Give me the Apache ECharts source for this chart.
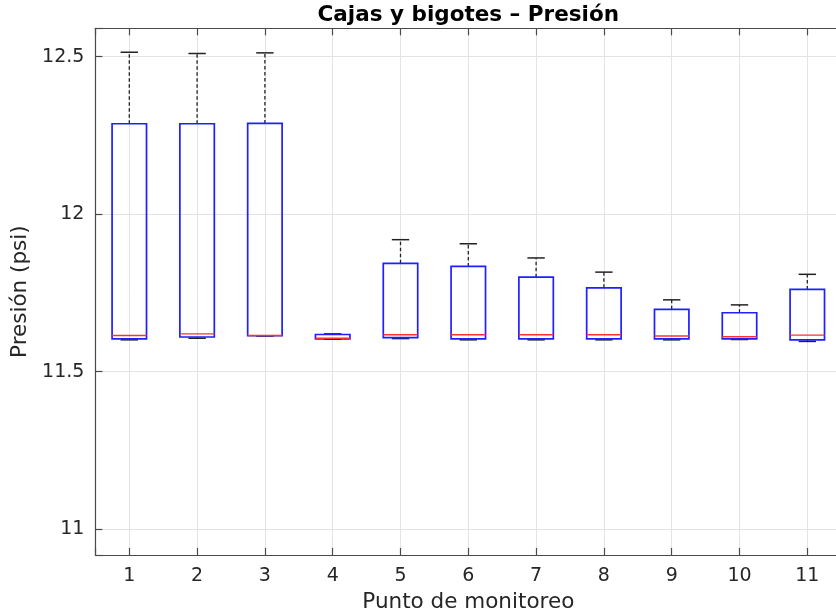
<!DOCTYPE html>
<html>
<head>
<meta charset="utf-8">
<script src="https://cdn.jsdelivr.net/npm/echarts@6/dist/echarts.min.js"></script>
<style>
  html, body { margin: 0; padding: 0; background: #ffffff; }
  #chart { width: 836px; height: 613px; }
</style>
</head>
<body>
<div id="chart"></div>
<script>
// Monitoring points (x positions)
const puntos = [1, 2, 3, 4, 5, 6, 7, 8, 9, 10, 11];
// Box-plot statistics per point (psi)
const bigoteSup = [12.514, 12.510, 12.512, 11.620, 11.919, 11.906, 11.861, 11.816, 11.728, 11.712, 11.809];
const cuartil3  = [12.287, 12.287, 12.288, 11.618, 11.844, 11.834, 11.800, 11.766, 11.698, 11.687, 11.761];
const mediana   = [11.615, 11.620, 11.615, 11.606, 11.617, 11.617, 11.617, 11.617, 11.613, 11.611, 11.616];
const cuartil1  = [11.604, 11.610, 11.614, 11.604, 11.608, 11.604, 11.604, 11.604, 11.604, 11.604, 11.601];
const bigoteInf = [11.601, 11.606, 11.613, 11.603, 11.605, 11.601, 11.601, 11.601, 11.601, 11.602, 11.596];
// Y tick values shown
const ticksY = [11, 11.5, 12, 12.5];

const FONT = '"DejaVu Sans", "Liberation Sans", Arial, sans-serif';
const AXIS_COLOR = '#4a4a4a';
const GRID_COLOR = '#e3e3e3';

const cajas = puntos.map((p, i) => [p, bigoteInf[i], cuartil1[i], mediana[i], cuartil3[i], bigoteSup[i]]);

function renderCaja(params, api) {
  const x = api.value(0);
  const band = api.size([1, 0])[0];
  const halfBox = band * 0.254;
  const halfCap = band * 0.128;
  const px = api.coord([x, 0])[0];
  const yLo = api.coord([x, api.value(1)])[1];
  const yQ1 = api.coord([x, api.value(2)])[1];
  const yMed = api.coord([x, api.value(3)])[1];
  const yQ3 = api.coord([x, api.value(4)])[1];
  const yHi = api.coord([x, api.value(5)])[1];
  const whisker = { stroke: '#222', lineWidth: 1.3, lineDash: [3.5, 2.5] };
  const cap = { stroke: '#222', lineWidth: 1.5 };
  return {
    type: 'group',
    children: [
      { type: 'line', shape: { x1: px, y1: yQ3, x2: px, y2: yHi }, style: whisker },
      { type: 'line', shape: { x1: px, y1: yQ1, x2: px, y2: yLo }, style: whisker },
      { type: 'line', shape: { x1: px - halfCap, y1: yHi, x2: px + halfCap, y2: yHi }, style: cap },
      { type: 'line', shape: { x1: px - halfCap, y1: yLo, x2: px + halfCap, y2: yLo }, style: cap },
      { type: 'rect', shape: { x: px - halfBox, y: yQ3, width: halfBox * 2, height: yQ1 - yQ3 },
        style: { fill: 'none', stroke: '#1f1fff', lineWidth: 1.7 } },
      { type: 'line', shape: { x1: px - halfBox, y1: yMed, x2: px + halfBox, y2: yMed },
        style: { stroke: '#ff3030', lineWidth: 1.4 } }
    ]
  };
}

const chart = echarts.init(document.getElementById('chart'));

const xCommon = { type: 'value', min: 0.5, max: 11.5, minInterval: 1, maxInterval: 1 };
const yCommon = { type: 'value', min: 10.918, max: 12.59, minInterval: 0.5, maxInterval: 0.5 };
const isTick = v => ticksY.some(t => Math.abs(t - v) < 1e-9);

chart.setOption({
  animation: false,
  backgroundColor: '#ffffff',
  grid: { left: 95.4, right: -5.2, top: 28.3, bottom: 58, outerBoundsMode: 'none' },
  graphic: [{
    type: 'text', x: 468.3, y: 15.5,
    style: { text: 'Cajas y bigotes – Presión', font: 'bold 21.5px ' + FONT, fill: '#000',
             align: 'center', verticalAlign: 'middle' }
  }],
  xAxis: [
    Object.assign({}, xCommon, {
      position: 'bottom',
      axisLine: { show: true, onZero: false, lineStyle: { color: AXIS_COLOR, width: 1.2 } },
      axisTick: { show: true, inside: true, length: 7, lineStyle: { color: AXIS_COLOR, width: 1.2 } },
      axisLabel: { show: true, margin: 12, fontSize: 19, fontFamily: FONT, color: '#262626',
                   formatter: v => (Number.isInteger(v) && v >= 1 && v <= 11) ? String(v) : '' },
      splitLine: { show: true, lineStyle: { color: GRID_COLOR, width: 1 } },
      name: 'Punto de monitoreo', nameLocation: 'middle', nameGap: 36,
      nameTextStyle: { fontSize: 21.5, fontFamily: FONT, color: '#262626' }
    }),
    Object.assign({}, xCommon, {
      position: 'top',
      axisLine: { show: true, onZero: false, lineStyle: { color: AXIS_COLOR, width: 1.2 } },
      axisTick: { show: true, inside: true, length: 7, lineStyle: { color: AXIS_COLOR, width: 1.2 } },
      axisLabel: { show: false },
      splitLine: { show: false }
    })
  ],
  yAxis: [
    Object.assign({}, yCommon, {
      position: 'left',
      axisLine: { show: true, onZero: false, lineStyle: { color: AXIS_COLOR, width: 1.2 } },
      axisTick: { show: true, inside: true, length: 7, lineStyle: { color: AXIS_COLOR, width: 1.2 } },
      axisLabel: { show: true, margin: 11, fontSize: 19, fontFamily: FONT, color: '#262626',
                   formatter: v => isTick(v) ? String(v) : '' },
      splitLine: { show: true, lineStyle: { color: GRID_COLOR, width: 1 } },
      name: 'Presión (psi)', nameLocation: 'middle', nameGap: 56, nameRotate: 90,
      nameTextStyle: { fontSize: 21.5, fontFamily: FONT, color: '#262626' }
    })
  ],
  series: [{
    type: 'custom',
    xAxisIndex: 0,
    yAxisIndex: 0,
    renderItem: renderCaja,
    encode: { x: 0, y: [1, 2, 3, 4, 5] },
    data: cajas,
    clip: false,
    silent: true
  }]
});
</script>
</body>
</html>
